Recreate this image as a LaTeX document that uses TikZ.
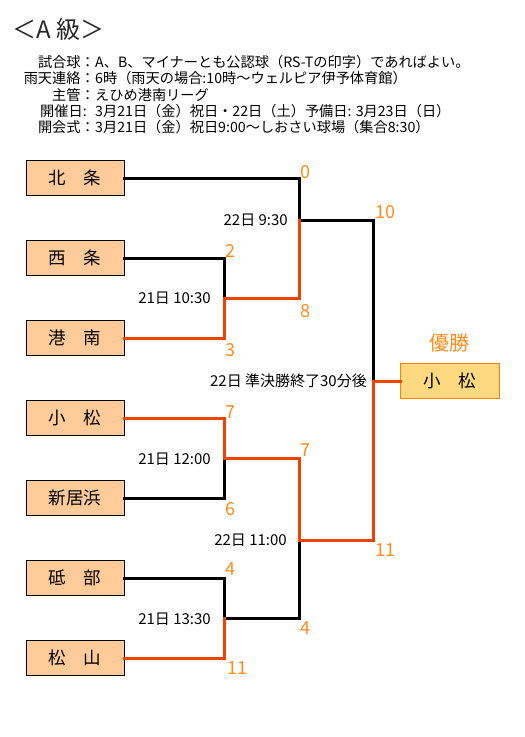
\documentclass[tikz,border=0pt]{standalone}
\usepackage{fontspec}
\setmainfont{Noto Sans CJK JP}
\usepackage{xcolor}
\usepackage{tikz}
\usetikzlibrary{positioning, calc}

\definecolor{teamfill}{HTML}{FFCC99}
\definecolor{champfill}{HTML}{FFD97F}
\definecolor{champline}{HTML}{FF8000}
\definecolor{winred}{HTML}{EE4400}
\definecolor{scoreorange}{HTML}{FF8C1A}

\begin{document}
\begin{tikzpicture}[x=1pt, y=-1pt,
    team/.style={draw, line width=1pt, fill=teamfill, minimum width=98pt, minimum height=35pt, inner sep=0pt, font=\fontsize{17.5}{19}\selectfont},
    champ/.style={draw=champline, line width=1pt, fill=champfill, minimum width=99pt, minimum height=35pt, inner sep=0pt, font=\fontsize{17.5}{19}\selectfont},
    score/.style={anchor=west, inner sep=0pt, text=scoreorange, font=\fontsize{18}{20}\selectfont},
    slot/.style={anchor=east, inner sep=0pt, font=\fontsize{15}{17}\selectfont},
    info/.style={anchor=west, inner sep=0pt, font=\fontsize{14.2}{16}\selectfont},
    infolabel/.style={anchor=east, inner sep=0pt, font=\fontsize{14.2}{16}\selectfont},
    lose/.style={line width=3pt, line cap=rect, black},
    win/.style={line width=3pt, line cap=rect, winred}]

    \useasboundingbox (0,0) rectangle (525,737);

    % Title and notes
    \node[anchor=west, inner sep=0pt, font=\fontsize{24}{26}\selectfont, text=black!85] (title) at (12,29) {＜A 級＞};
    \node[infolabel] (lbl1) at (95,62) {試合球：};
    \node[info] (info1) at (95,62) {A、B、マイナーとも公認球（RS-Tの印字）であればよい。};
    \node[infolabel] (lbl2) at (95,78) {雨天連絡：};
    \node[info] (info2) at (95,78) {6時（雨天の場合:10時〜ウェルピア伊予体育館）};
    \node[infolabel] (lbl3) at (95,95) {主管：};
    \node[info] (info3) at (95,95) {えひめ港南リーグ};
    \node[anchor=west, inner sep=0pt, font=\fontsize{14.2}{16}\selectfont] (lbl4) at (40,111) {開催日:};
    \node[info] (info4) at (95,111) {3月21日（金）祝日・22日（土）予備日: 3月23日（日）};
    \node[infolabel] (lbl5) at (95,127) {開会式：};
    \node[info] (info5) at (95,127) {3月21日（金）祝日9:00〜しおさい球場（集合8:30）};

    % Teams
    \node[team] (hojo) at (75,178) {北　条};
    \node[team] (saijo) at (75,258) {西　条};
    \node[team] (konan) at (75,338) {港　南};
    \node[team] (komatsu) at (75,418) {小　松};
    \node[team] (niihama) at (75,498) {新居浜};
    \node[team] (tobe) at (75,578) {砥　部};
    \node[team] (matsuyama) at (75,658) {松　山};

    % Winner
    \node[anchor=south, inner sep=0pt, text=scoreorange, font=\fontsize{20}{22}\selectfont] (yusho) at (449,352) {優勝};
    \node[champ] (winner) at (450,381) {小　松};

    % Match points
    \coordinate (r1a) at (224,298);
    \coordinate (r1b) at (224,458);
    \coordinate (r1c) at (224,618);
    \coordinate (r2a) at (299,220);
    \coordinate (r2b) at (299,540);
    \coordinate (fin) at (373,381);

    % Losing lines
    \draw[lose] (hojo.east) -| (r2a);
    \draw[lose] (saijo.east) -| (r1a);
    \draw[lose] (niihama.east) -| (r1b);
    \draw[lose] (tobe.east) -| (r1c);
    \draw[lose] (r1c) -| (r2b);
    \draw[lose] (r2a) -| (fin);

    % Winning lines
    \draw[win] (konan.east) -| (r1a);
    \draw[win] (r1a) -| (r2a);
    \draw[win] (komatsu.east) -| (r1b);
    \draw[win] (r1b) -| (r2b);
    \draw[win] (matsuyama.east) -| (r1c);
    \draw[win] (r2b) -| (fin);
    \draw[win] (fin) -- (winner.west);

    % Dates
    \node[slot] (d1) at (288,220) {22日 9:30};
    \node[slot] (d2) at (211,298) {21日 10:30};
    \node[slot] (d3) at (367,381) {22日 準決勝終了30分後};
    \node[slot] (d4) at (211,459) {21日 12:00};
    \node[slot] (d5) at (287,540) {22日 11:00};
    \node[slot] (d6) at (211,619) {21日 13:30};

    % Scores
    \node[score] (s1) at (300,172) {0};
    \node[score] (s2) at (375,212) {10};
    \node[score] (s3) at (225,251) {2};
    \node[score] (s4) at (300,311) {8};
    \node[score] (s5) at (225,350) {3};
    \node[score] (s6) at (225,412) {7};
    \node[score] (s7) at (300,450) {7};
    \node[score] (s8) at (225,509) {6};
    \node[score] (s9) at (375,550) {11};
    \node[score] (s10) at (225,569) {4};
    \node[score] (s11) at (300,628) {4};
    \node[score] (s12) at (227,668) {11};
\end{tikzpicture}
\end{document}
